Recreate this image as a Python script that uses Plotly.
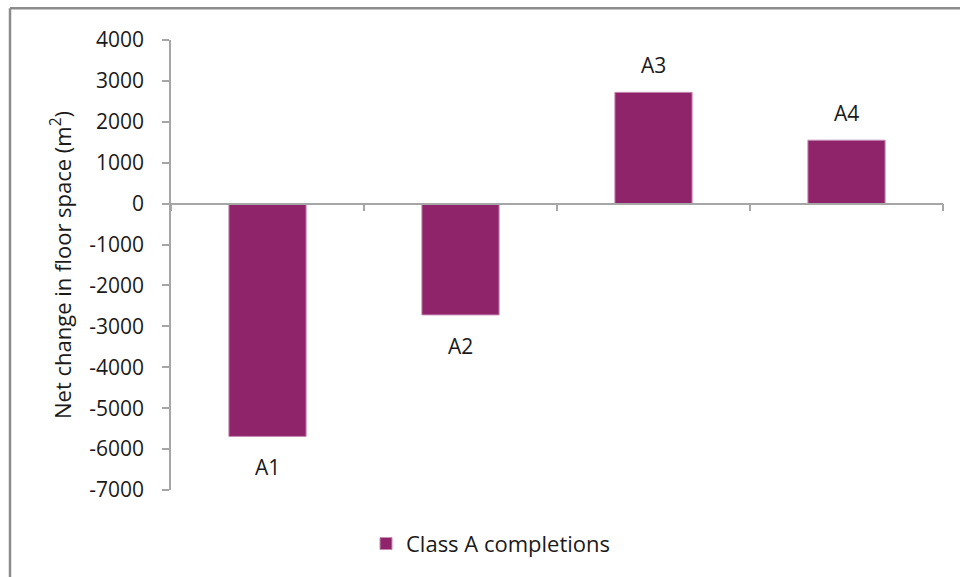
import plotly.graph_objects as go

# Net change in floor space by Class A completion group
categories = ["A1", "A2", "A3", "A4"]
net_change = [-5690, -2720, 2720, 1550]
series_name = "Class A completions"
y_ticks = [4000, 3000, 2000, 1000, 0, -1000, -2000, -3000, -4000, -5000, -6000, -7000]

W, H = 960, 577
L, R, T, B = 171, 17, 40, 85
plot_w = W - L - R
plot_h = H - T - B
y_min, y_max = -7000, 4000

BAR = "#90246b"
AXIS = "#a6a6a6"
FONT = "'Open Sans', 'Noto Sans', sans-serif"
INK = "#1a1a1a"

fig = go.Figure()
fig.add_trace(go.Bar(
    x=categories,
    y=net_change,
    name=series_name,
    width=0.4,
    marker=dict(color=BAR, line=dict(color="#c48ab0", width=1)),
    showlegend=True,
))

# category labels sitting beyond the end of each bar
for cat, val in zip(categories, net_change):
    fig.add_annotation(
        x=cat, y=val, text=cat, showarrow=False,
        yshift=27 if val > 0 else -31,
        yanchor="middle", xanchor="center",
        font=dict(family=FONT, size=21, color=INK),
    )

# outer chart frame (left and top edges)
px = lambda x: (x - L) / plot_w
py = lambda y: (H - B - y) / plot_h
fig.add_shape(type="line", xref="paper", yref="paper",
              x0=px(10), x1=px(W + 5), y0=py(8), y1=py(8),
              line=dict(color="#8c8c8c", width=2.5))
fig.add_shape(type="line", xref="paper", yref="paper",
              x0=px(10), x1=px(10), y0=py(8), y1=py(H + 5),
              line=dict(color="#8c8c8c", width=2.5))

zero_pos = (0 - y_min) / (y_max - y_min)

fig.update_layout(
    width=W, height=H,
    margin=dict(l=L, r=R, t=T, b=B, pad=0),
    paper_bgcolor="white", plot_bgcolor="white",
    font=dict(family=FONT, size=21, color=INK),
    bargap=0.6,
    xaxis=dict(
        type="category",
        anchor="free", position=zero_pos,
        showline=True, linecolor=AXIS, linewidth=1.5,
        ticks="outside", tickson="boundaries", ticklen=7,
        tickcolor=AXIS, tickwidth=1.5,
        showticklabels=False, showgrid=False, zeroline=False,
        range=[-0.5, 3.5],
    ),
    yaxis=dict(
        range=[y_min, y_max],
        tickvals=y_ticks,
        ticktext=[str(v) for v in y_ticks],
        showline=True, linecolor=AXIS, linewidth=1.5,
        ticks="outside", ticklen=7, tickcolor=AXIS, tickwidth=1.5,
        ticklabelstandoff=14,
        showgrid=False, zeroline=False,
        tickfont=dict(family=FONT, size=21, color=INK),
        title=dict(text="Net change in floor space (m<sup>2</sup>)",
                   font=dict(family=FONT, size=22, color=INK),
                   standoff=12),
    ),
    legend=dict(
        orientation="h", x=px(491), y=py(546),
        xanchor="center", yanchor="middle",
        font=dict(family=FONT, size=22, color=INK),
        itemwidth=30,
        bgcolor="rgba(0,0,0,0)",
    ),
)

fig.write_html("out.html")
